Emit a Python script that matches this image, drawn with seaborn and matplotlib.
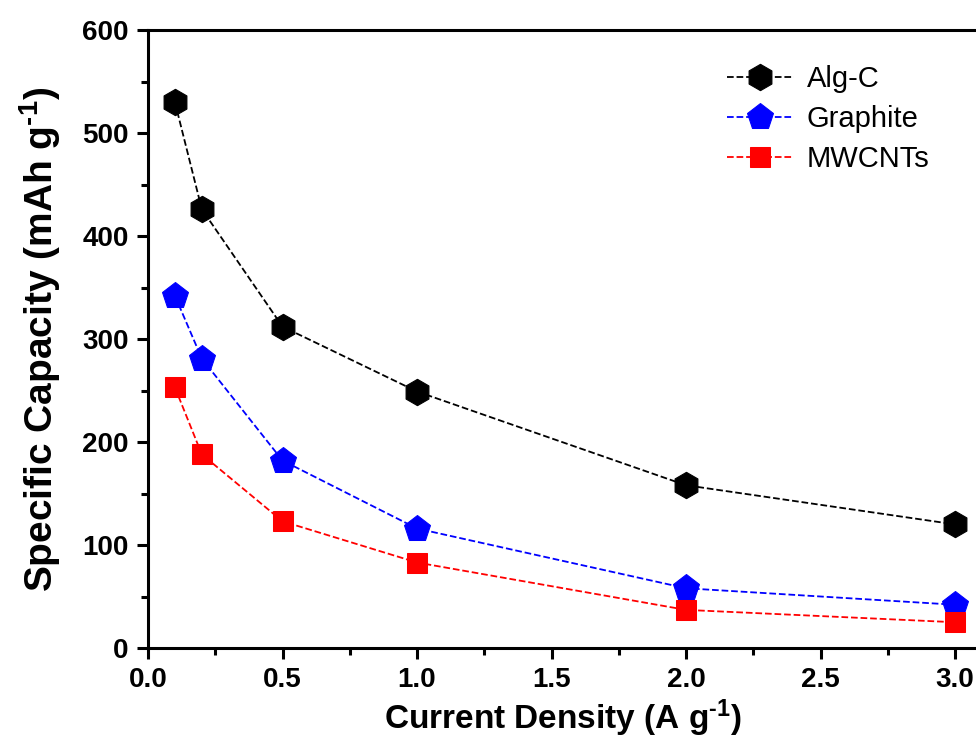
import matplotlib
matplotlib.use("Agg")
import matplotlib.pyplot as plt
from matplotlib.ticker import MultipleLocator, FormatStrFormatter
import seaborn as sns
import pandas as pd

# Rate capability: specific capacity vs current density
current_density = [0.1, 0.2, 0.5, 1.0, 2.0, 3.0]
alg_c = [530, 426, 312, 249, 158, 120]
graphite = [342, 281, 182, 116, 58, 42]
mwcnts = [253, 188, 123, 83, 37, 25]

series_names = ["Alg-C", "Graphite", "MWCNTs"]
series_values = [alg_c, graphite, mwcnts]
colors = {"Alg-C": "black", "Graphite": "#0000ff", "MWCNTs": "#ff0000"}
markers = {"Alg-C": "h", "Graphite": "p", "MWCNTs": "s"}
msizes = {"Alg-C": 19, "Graphite": 20, "MWCNTs": 15}

df = pd.DataFrame(
    [(x, v, name) for name, vals in zip(series_names, series_values)
     for x, v in zip(current_density, vals)],
    columns=["x", "y", "sample"],
)

sns.set_theme(style="ticks")
plt.rcParams["font.family"] = ["Liberation Sans", "DejaVu Sans"]
plt.rcParams["text.color"] = "black"
plt.rcParams["axes.labelcolor"] = "black"
plt.rcParams["xtick.color"] = "black"
plt.rcParams["ytick.color"] = "black"
plt.rcParams["mathtext.fontset"] = "custom"
plt.rcParams["mathtext.rm"] = "Liberation Sans:bold"
plt.rcParams["mathtext.bf"] = "Liberation Sans:bold"
plt.rcParams["mathtext.it"] = "Liberation Sans:bold"

fig = plt.figure(figsize=(9.76, 7.44), dpi=100)
# axes box in pixels; the right spine sits just past the figure edge
left_px, right_px, bottom_px, top_px = 148, 978, 648, 30
ax = fig.add_axes([left_px / 976, 1 - bottom_px / 744,
                   (right_px - left_px) / 976, (bottom_px - top_px) / 744])

for name in series_names:
    sub = df[df["sample"] == name]
    sns.lineplot(data=sub, x="x", y="y", ax=ax, color=colors[name],
                 marker=markers[name], markersize=msizes[name],
                 markeredgecolor=colors[name], linestyle="--",
                 dashes=(4, 3), linewidth=1.3, label=name, sort=False)

ax.set_xlim(0, 3.085)
ax.set_ylim(0, 600)
ax.xaxis.set_major_locator(MultipleLocator(0.5))
ax.xaxis.set_minor_locator(MultipleLocator(0.25))
ax.yaxis.set_major_locator(MultipleLocator(100))
ax.yaxis.set_minor_locator(MultipleLocator(50))
ax.tick_params(which="major", direction="out", length=8, width=2.2,
               labelsize=20, pad=6, colors="black")
ax.tick_params(which="minor", direction="out", length=5, width=2.2,
               colors="black")
ax.xaxis.set_major_formatter(FormatStrFormatter("%.1f"))
for lbl in ax.get_xticklabels() + ax.get_yticklabels():
    lbl.set_fontweight("bold")
for s in ax.spines.values():
    s.set_linewidth(2.2)
    s.set_color("black")

ax.set_xlabel(r"Current Density (A g$^{\text{-1}}$)", fontsize=24,
              fontweight="bold", labelpad=3, color="black")
ax.set_ylabel(r"Specific Capacity (mAh g$^{\text{-1}}$)", fontsize=28,
              fontweight="bold", labelpad=14, color="black")

leg = ax.legend(loc="upper left", bbox_to_anchor=(0.676, 0.972), frameon=False,
                fontsize=21, handlelength=2.3, handletextpad=0.45,
                labelspacing=0.42, borderaxespad=0.2)
for t in leg.get_texts():
    t.set_color("black")

fig.savefig("out.png", dpi=100)
